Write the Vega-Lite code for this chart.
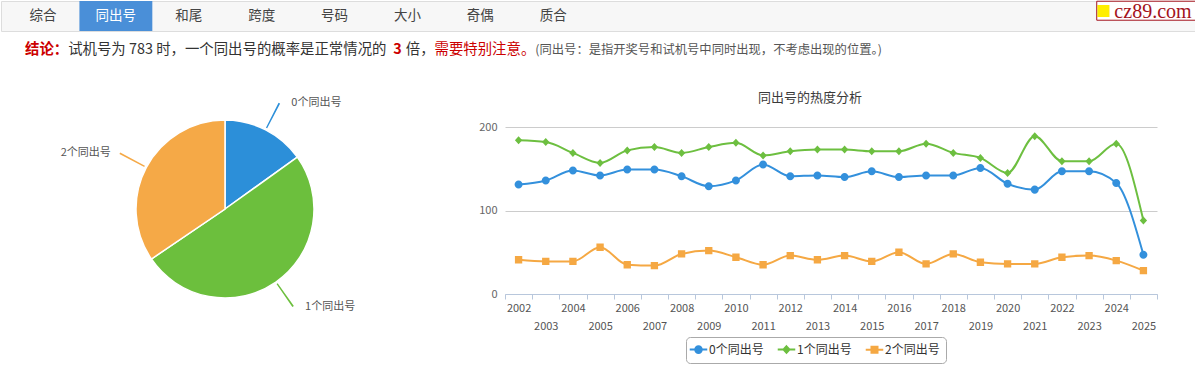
{
  "$schema": "https://vega.github.io/schema/vega-lite/v6.json",
  "padding": 0,
  "background": "#ffffff",
  "config": {
    "font": "Noto Sans CJK SC",
    "view": {"stroke": null}
  },
  "spacing": 24,
  "resolve": {"scale": {"color": "independent", "shape": "independent", "stroke": "independent"}},
  "vconcat": [
    {
      "spacing": 0,
      "resolve": {"scale": {"color": "independent"}},
      "vconcat": [
        {
          "width": 1195,
          "height": 30,
          "view": {"fill": "#f7f7f7", "stroke": "#dddddd"},
          "data": {"values": [
            {"tab": "综合", "role": "tab"},
            {"tab": "同出号", "role": "active"},
            {"tab": "和尾", "role": "tab"},
            {"tab": "跨度", "role": "tab"},
            {"tab": "号码", "role": "tab"},
            {"tab": "大小", "role": "tab"},
            {"tab": "奇偶", "role": "tab"},
            {"tab": "质合", "role": "tab"},
            {"tab": "cz89.com", "role": "brand"}
          ]},
          "encoding": {
            "x": {"field": "tab", "type": "nominal", "axis": null,
              "scale": {"type": "band", "domain": ["综合","同出号","和尾","跨度","号码","大小","奇偶","质合","·1","·2","·3","·4","·5","·6","·7","cz89.com"],
                "paddingInner": 0, "paddingOuter": 0.196, "align": 0.193}}
          },
          "resolve": {"scale": {"x": "independent", "y": "independent"}},
          "layer": [
            {"transform": [{"filter": "datum.role == 'active'"}], "mark": {"type": "rect", "color": "#4a8fd8"}},
            {"transform": [{"filter": "datum.role != 'brand'"}], "mark": {"type": "text", "fontSize": 13.5},
              "encoding": {"text": {"field": "tab"}, "color": {"condition": {"test": "datum.role == 'active'", "value": "#ffffff"}, "value": "#444444"}}},
            {
              "transform": [{"filter": "datum.role == 'brand'"}],
              "encoding": {
                "x": {"field": "tab", "type": "nominal", "axis": null,
                  "scale": {"type": "band", "domain": ["b1","b2","b3","b4","b5","b6","b7","b8","b9","b10","b11","cz89.com"], "paddingInner": 0, "paddingOuter": 0.02, "align": 1}},
                "y": {"field": "role", "type": "nominal", "axis": null,
                  "scale": {"type": "band", "domain": ["brand"], "paddingInner": 0, "paddingOuter": 0.289, "align": 0.02}}
              },
              "layer": [
                {"mark": {"type": "rect", "fill": "#ffffff", "stroke": "#a3121c", "strokeWidth": 1}},
                {"mark": {"type": "text", "align": "left", "dx": -32, "dy": 1, "font": "Liberation Serif", "fontSize": 20, "color": "#a3121c"},
                  "encoding": {"text": {"field": "tab"}}},
                {"mark": {"type": "text", "text": "■", "align": "left", "dx": -50, "dy": 1, "fontSize": 15, "color": "#ffee00"}}
              ]
            }
          ]
        },
        {
          "width": 1195,
          "height": 36,
          "data": {"values": [
            {"i": 1, "kind": "label", "t": "结论："},
            {"i": 2, "kind": "text", "t": "试机号为 783 时，一个同出号的概率是正常情况的 "},
            {"i": 3, "kind": "num", "t": "3 "},
            {"i": 4, "kind": "text", "t": "倍，"},
            {"i": 5, "kind": "warn", "t": "需要特别注意。"},
            {"i": 6, "kind": "note", "t": "(同出号：是指开奖号和试机号中同时出现，不考虑出现的位置。)"}
          ]},
          "transform": [
            {"calculate": "datum.kind == 'note' ? 12.3 : 14.4", "as": "fs"},
            {"calculate": "length(replace(datum.t, regexp('[ -~]', 'g'), ''))", "as": "cjk"},
            {"calculate": "length(replace(datum.t, regexp('[^0-9]', 'g'), ''))", "as": "dg"},
            {"calculate": "length(replace(datum.t, regexp('[^ ]', 'g'), ''))", "as": "sp"},
            {"calculate": "datum.fs * (datum.cjk + 0.56 * datum.dg + 0.3 * datum.sp + 0.33 * (length(datum.t) - datum.cjk - datum.dg - datum.sp))", "as": "w"},
            {"window": [{"op": "sum", "field": "w", "as": "cum"}], "sort": [{"field": "i"}], "frame": [null, 0]},
            {"calculate": "datum.cum - datum.w", "as": "x0"}
          ],
          "encoding": {
            "x": {"field": "x0", "type": "quantitative", "axis": null, "scale": {"domain": [-24, 1171], "nice": false, "zero": false}},
            "text": {"field": "t"},
            "color": {"field": "kind", "type": "nominal", "legend": null,
              "scale": {"domain": ["label","text","num","warn","note"], "range": ["#cc0000","#333333","#cc0000","#cc0000","#555555"]}}
          },
          "layer": [
            {"transform": [{"filter": "datum.kind == 'label' || datum.kind == 'num'"}], "mark": {"type": "text", "align": "left", "fontSize": 14.4, "fontWeight": "bold"}},
            {"transform": [{"filter": "datum.kind == 'text' || datum.kind == 'warn'"}], "mark": {"type": "text", "align": "left", "fontSize": 14.4}},
            {"transform": [{"filter": "datum.kind == 'note'"}], "mark": {"type": "text", "align": "left", "fontSize": 12.3}}
          ]
        }
      ]
    },
    {
      "spacing": 29,
      "resolve": {"scale": {"color": "independent", "shape": "independent", "stroke": "independent"}},
      "hconcat": [
        {
          "width": 448,
          "height": 164,
          "data": {"values": [
            {"name": "0个同出号", "p": 15.1},
            {"name": "1个同出号", "p": 50.4},
            {"name": "2个同出号", "p": 34.5}
          ]},
          "transform": [
            {"window": [{"op": "sum", "field": "p", "as": "cum"}], "sort": [{"field": "name"}], "frame": [null, 0]},
            {"calculate": "datum.cum - datum.p / 2 - 0.12", "as": "lo"},
            {"calculate": "datum.cum - datum.p / 2 + 0.12", "as": "hi"}
          ],
          "encoding": {
            "color": {"field": "name", "type": "nominal", "legend": null,
              "scale": {"domain": ["0个同出号","1个同出号","2个同出号"], "range": ["#2c8fd9","#6cbf3d","#f5a947"]}}
          },
          "layer": [
            {"mark": {"type": "arc", "outerRadius": 89, "stroke": "#ffffff", "strokeWidth": 1.5},
              "encoding": {"theta": {"field": "p", "type": "quantitative", "stack": true, "scale": {"domain": [0, 100]}}}},
            {"mark": {"type": "arc", "outerRadius": 119, "innerRadius": 91},
              "encoding": {"theta": {"field": "lo", "type": "quantitative", "stack": null}, "theta2": {"field": "hi"}}},
            {"mark": {"type": "text", "radius": 119, "align": "left", "dx": 12, "fontSize": 11},
              "encoding": {"theta": {"field": "p", "type": "quantitative", "stack": true},
                "text": {"condition": {"test": "datum.name == '2个同出号'", "value": ""}, "field": "name"}, "color": {"value": "#555555"}}},
            {"mark": {"type": "text", "radius": 119, "align": "right", "dx": -9, "fontSize": 11},
              "encoding": {"theta": {"field": "p", "type": "quantitative", "stack": true},
                "text": {"condition": {"test": "datum.name != '2个同出号'", "value": ""}, "field": "name"}, "color": {"value": "#555555"}}}
          ]
        },
        {
          "width": 652,
          "height": 167,
          "title": {"text": "同出号的热度分析", "fontSize": 13, "fontWeight": "normal", "color": "#3a3a3a", "offset": 16, "dx": -21, "anchor": "middle"},
          "data": {"values": [
            {"year":"2002","s":"0个同出号","v":131},{"year":"2003","s":"0个同出号","v":136},{"year":"2004","s":"0个同出号","v":148},{"year":"2005","s":"0个同出号","v":142},
            {"year":"2006","s":"0个同出号","v":149},{"year":"2007","s":"0个同出号","v":149},{"year":"2008","s":"0个同出号","v":141},{"year":"2009","s":"0个同出号","v":129},
            {"year":"2010","s":"0个同出号","v":136},{"year":"2011","s":"0个同出号","v":155},{"year":"2012","s":"0个同出号","v":141},{"year":"2013","s":"0个同出号","v":142},
            {"year":"2014","s":"0个同出号","v":140},{"year":"2015","s":"0个同出号","v":147},{"year":"2016","s":"0个同出号","v":140},{"year":"2017","s":"0个同出号","v":142},
            {"year":"2018","s":"0个同出号","v":142},{"year":"2019","s":"0个同出号","v":151},{"year":"2020","s":"0个同出号","v":132},{"year":"2021","s":"0个同出号","v":125},
            {"year":"2022","s":"0个同出号","v":147},{"year":"2023","s":"0个同出号","v":147},{"year":"2024","s":"0个同出号","v":133},{"year":"2025","s":"0个同出号","v":47},
            {"year":"2002","s":"1个同出号","v":184},{"year":"2003","s":"1个同出号","v":182},{"year":"2004","s":"1个同出号","v":169},{"year":"2005","s":"1个同出号","v":157},
            {"year":"2006","s":"1个同出号","v":172},{"year":"2007","s":"1个同出号","v":176},{"year":"2008","s":"1个同出号","v":169},{"year":"2009","s":"1个同出号","v":176},
            {"year":"2010","s":"1个同出号","v":181},{"year":"2011","s":"1个同出号","v":166},{"year":"2012","s":"1个同出号","v":171},{"year":"2013","s":"1个同出号","v":173},
            {"year":"2014","s":"1个同出号","v":173},{"year":"2015","s":"1个同出号","v":171},{"year":"2016","s":"1个同出号","v":171},{"year":"2017","s":"1个同出号","v":180},
            {"year":"2018","s":"1个同出号","v":169},{"year":"2019","s":"1个同出号","v":163},{"year":"2020","s":"1个同出号","v":145},{"year":"2021","s":"1个同出号","v":189},
            {"year":"2022","s":"1个同出号","v":159},{"year":"2023","s":"1个同出号","v":159},{"year":"2024","s":"1个同出号","v":180},{"year":"2025","s":"1个同出号","v":88},
            {"year":"2002","s":"2个同出号","v":41},{"year":"2003","s":"2个同出号","v":39},{"year":"2004","s":"2个同出号","v":39},{"year":"2005","s":"2个同出号","v":56},
            {"year":"2006","s":"2个同出号","v":35},{"year":"2007","s":"2个同出号","v":34},{"year":"2008","s":"2个同出号","v":48},{"year":"2009","s":"2个同出号","v":52},
            {"year":"2010","s":"2个同出号","v":44},{"year":"2011","s":"2个同出号","v":35},{"year":"2012","s":"2个同出号","v":46},{"year":"2013","s":"2个同出号","v":41},
            {"year":"2014","s":"2个同出号","v":46},{"year":"2015","s":"2个同出号","v":39},{"year":"2016","s":"2个同出号","v":50},{"year":"2017","s":"2个同出号","v":36},
            {"year":"2018","s":"2个同出号","v":48},{"year":"2019","s":"2个同出号","v":38},{"year":"2020","s":"2个同出号","v":36},{"year":"2021","s":"2个同出号","v":36},
            {"year":"2022","s":"2个同出号","v":44},{"year":"2023","s":"2个同出号","v":46},{"year":"2024","s":"2个同出号","v":40},{"year":"2025","s":"2个同出号","v":28}
          ]},
          "encoding": {
            "x": {"field": "year", "type": "ordinal", "title": null,
              "scale": {"type": "band", "paddingInner": 0, "paddingOuter": 0},
              "axis": {"labelAngle": 0, "labelExpr": "toNumber(datum.value) % 2 == 1 ? ['', datum.label] : datum.label",
                "labelLineHeight": 18, "labelFontSize": 11, "labelColor": "#555555", "labelPadding": 3, "labelOverlap": false,
                "tickBand": "extent", "tickSize": 5, "tickColor": "#b8c7dc", "domainColor": "#b8c7dc", "grid": false}},
            "y": {"field": "v", "type": "quantitative", "title": null,
              "scale": {"domain": [0, 200], "nice": false},
              "axis": {"values": [0, 100, 200], "domain": false, "ticks": false, "grid": true, "gridColor": "#cccccc",
                "labelColor": "#666666", "labelFontSize": 11, "labelPadding": 8}},
            "color": {"field": "s", "type": "nominal",
              "scale": {"domain": ["0个同出号","1个同出号","2个同出号"], "range": ["#3390dc","#6dbf40","#f5a843"]},
              "legend": {"title": null, "orient": "none", "legendX": 181, "legendY": 210, "direction": "horizontal",
                "strokeColor": "#aaaaaa", "cornerRadius": 4, "padding": 6, "labelFontSize": 12, "labelColor": "#333333",
                "symbolSize": 120, "symbolStrokeWidth": 2, "columnPadding": 9,
                "encode": {"symbols": {"update": {"strokeWidth": {"value": 2}}}}}}
          },
          "layer": [
            {"mark": {"type": "line", "interpolate": "monotone", "strokeWidth": 2}},
            {"mark": {"type": "point", "filled": true, "opacity": 1, "size": 178, "strokeWidth": 0},
              "encoding": {
                "stroke": {"field": "s", "type": "nominal",
                  "scale": {"domain": ["0个同出号","1个同出号","2个同出号"], "range": ["#3390dc","#6dbf40","#f5a843"]},
                  "legend": {"title": null, "orient": "none", "legendX": 181, "legendY": 210, "direction": "horizontal",
                    "strokeColor": "#aaaaaa", "cornerRadius": 4, "padding": 6, "labelFontSize": 12, "labelColor": "#333333",
                    "symbolSize": 120, "symbolStrokeWidth": 2, "columnPadding": 9,
                    "encode": {"symbols": {"update": {"strokeWidth": {"value": 2}}}}}},
                "shape": {"field": "s", "type": "nominal",
                  "scale": {"domain": ["0个同出号","1个同出号","2个同出号"],
                    "range": ["M-1.6,0H1.6M-0.6,0A0.6,0.6,0,1,1,0.6,0A0.6,0.6,0,1,1,-0.6,0Z",
                              "M-1.6,0H1.6M0,-0.6L0.55,0L0,0.6L-0.55,0Z",
                              "M-1.6,0H1.6M-0.55,-0.55H0.55V0.55H-0.55Z"]},
                  "legend": {"title": null, "orient": "none", "legendX": 181, "legendY": 210, "direction": "horizontal",
                    "strokeColor": "#aaaaaa", "cornerRadius": 4, "padding": 6, "labelFontSize": 12, "labelColor": "#333333",
                    "symbolSize": 120, "symbolStrokeWidth": 2, "columnPadding": 9,
                    "encode": {"symbols": {"update": {"strokeWidth": {"value": 2}}}}}}}}
          ]
        }
      ]
    }
  ]
}
